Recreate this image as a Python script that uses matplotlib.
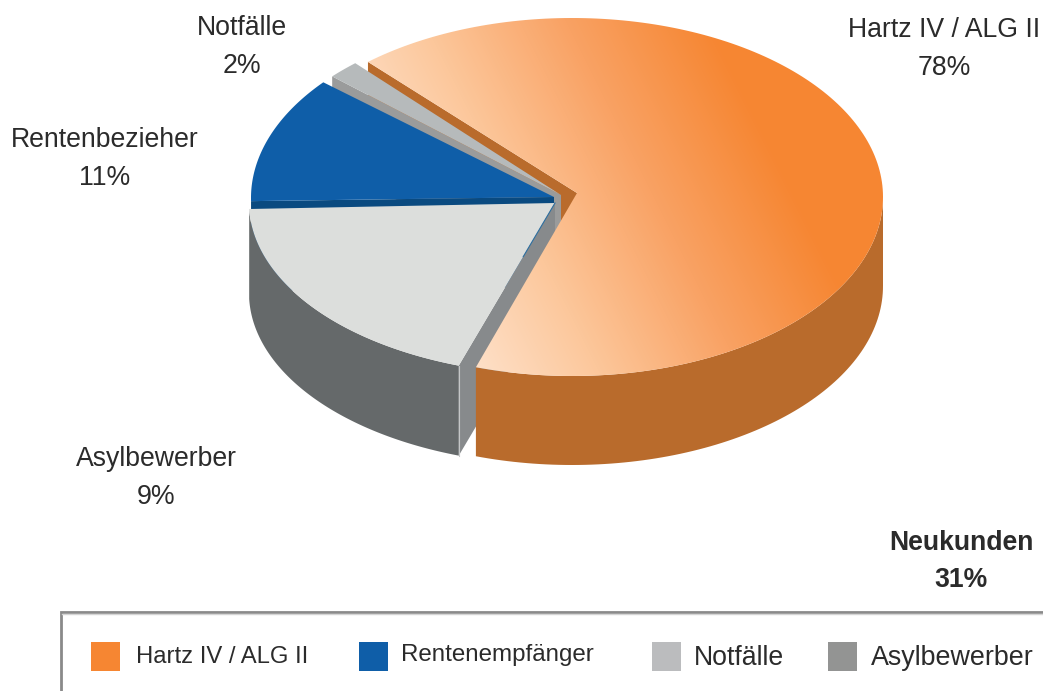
import numpy as np
import matplotlib
matplotlib.use("Agg")
import matplotlib.pyplot as plt
from matplotlib.colors import LinearSegmentedColormap
from matplotlib.patches import Polygon, Rectangle

plt.rcParams['font.family'] = ['Liberation Sans', 'DejaVu Sans']

# printed labels
label_names = ["Hartz IV / ALG II", "Rentenbezieher", "Notfälle", "Asylbewerber"]
label_pct = [78, 11, 2, 9]
total_name = "Neukunden"
total_pct = 31
legend_names = ["Hartz IV / ALG II", "Rentenempfänger", "Notfälle", "Asylbewerber"]

# angles as drawn in the picture (not proportional to the printed %), degrees
drawn_sweep = [239, 41, 6, 69]

# layout, in pixels of the figure
W, H = 1043, 691
depth = 90
rim_depth = 89
starts = [131, 181, 137.5, 251]  # clockwise from here
centers = [(572, 197), (560, 198), (560, 198), (560, 203)]
radii = [(311, 179), (309, 180), (309, 180), (311, 172)]
apexes = [(577, 193), (554, 197), (561, 195), (555, 203)]

top_cols = [None, "#0f5ea8", "#b6babb", "#dcdedc"]
cut_cols = ["#b96b2c", "#0a4a80", "#9a9b9b", "#878a8c"]
rim_cols = ["#b96b2c", None, None, "#65696a"]
legend_cols = ["#f68632", "#0f5ea8", "#bbbcbe", "#939493"]
text_col = "#2b2b2b"


def arc(i):
    t = np.radians(np.linspace(starts[i], starts[i] - drawn_sweep[i], 200))
    return np.column_stack([centers[i][0] + radii[i][0] * np.cos(t),
                            centers[i][1] - radii[i][1] * np.sin(t)])


def down(pts, d=depth):
    return pts + np.array([0, d])


def cut_wall(i, pts):
    # flat wall along one radius of a slice
    a = np.array([apexes[i]], dtype=float)
    p = np.array([pts], dtype=float)
    return np.vstack([p, a, down(a), down(p)])


fig = plt.figure(figsize=(W / 100, H / 100), dpi=100)
ax = fig.add_axes([0, 0, 1, 1])

arcs = [arc(i) for i in range(4)]
ORANGE, BLUE, NOT, ASYL = 0, 1, 2, 3

# walls first, the top faces cover what is hidden
ax.add_patch(Polygon(cut_wall(ORANGE, arcs[ORANGE][0]), fc=cut_cols[ORANGE], ec="none", zorder=1))
ax.add_patch(Polygon(cut_wall(NOT, arcs[NOT][0]), fc=cut_cols[NOT], ec="none", zorder=2))
ax.add_patch(Polygon(cut_wall(BLUE, arcs[BLUE][0]), fc=cut_cols[BLUE], ec="none", zorder=3))
ax.add_patch(Polygon(cut_wall(ASYL, arcs[ASYL][0]), fc=cut_cols[ASYL], ec="none", zorder=3.5))

# only the front of the rim can be seen
front = arcs[ORANGE][np.argmax(arcs[ORANGE][:, 0]):]
ax.add_patch(Polygon(np.vstack([front, down(front, rim_depth)[::-1]]), fc=rim_cols[ORANGE], ec="none", zorder=4))

# orange top, gradient runs at a slant
top = Polygon(np.vstack([[apexes[ORANGE]], arcs[ORANGE]]), fc="none", ec="none", transform=ax.transData)
ax.add_patch(top)
grad = LinearSegmentedColormap.from_list("g", [(0, "#fee0c8"), (0.3, "#fcc79b"), (0.65, "#f9a264"), (1, "#f68632")])
gx, gy = np.meshgrid(np.arange(250, 890), np.arange(0, 400))
im = ax.imshow(np.clip((gx - 0.5 * gy - 290) / 408, 0, 1), cmap=grad, vmin=0, vmax=1,
               extent=(250, 890, 400, 0), aspect="auto", zorder=5)
im.set_clip_path(top)

ax.add_patch(Polygon(np.vstack([arcs[ASYL], down(arcs[ASYL])[::-1]]), fc=rim_cols[ASYL], ec="none", zorder=6))
ax.add_patch(Polygon(np.vstack([[apexes[ASYL]], arcs[ASYL]]), fc=top_cols[ASYL], ec="none", zorder=7))
ax.add_patch(Polygon(np.vstack([[apexes[BLUE]], arcs[BLUE]]), fc=top_cols[BLUE], ec="none", zorder=8))
ax.add_patch(Polygon(np.vstack([[apexes[NOT]], arcs[NOT]]), fc=top_cols[NOT], ec="none", zorder=8))

# thin edges along the grey slice
e = arcs[ASYL][0]
a = np.array(apexes[ASYL])
ax.plot([a[0], a[0] + 0.33 * (e[0] - a[0])], [a[1], a[1] + 0.33 * (e[1] - a[1])], color="#2f6f9f", lw=0.8, zorder=7.5)
ax.plot([e[0], e[0]], [e[1], e[1] + depth], color="#c4c6c7", lw=0.8, zorder=7.5)

# labels
fs = 19.2
label_pos = [(944, 30), (105, 140), (242, 28), (156, 459)]
for name, pct, (x, y) in zip(label_names, label_pct, label_pos):
    ax.text(x, y, name, ha="center", va="center", fontsize=fs, color=text_col, zorder=10)
    ax.text(x, y + 38, f"{pct}%", ha="center", va="center", fontsize=fs, color=text_col, zorder=10)
ax.text(961, 543, total_name, ha="center", va="center", fontsize=fs, fontweight="bold", color=text_col)
ax.text(961, 580, f"{total_pct}%", ha="center", va="center", fontsize=fs, fontweight="bold", color=text_col)

# legend box, runs off the picture right and below
ax.plot([60.5, 60.5, W + 5], [H + 5, 612, 612], color="#8a8a8a", lw=2, solid_joinstyle="miter", zorder=9)
ax.plot([62, W + 5], [614, 614], color="#d5d5d5", lw=1, zorder=9)
swatch_x = [91, 359, 652, 828]
legend_x = [136, 401, 694, 871]
legend_y = [657, 655, 658, 658]
legend_fs = [17.2, 17.4, 19.2, 19.4]
for i in range(4):
    ax.add_patch(Rectangle((swatch_x[i], 642), 29, 29, fc=legend_cols[i], ec="none", zorder=9))
    ax.text(legend_x[i], legend_y[i], legend_names[i], ha="left", va="center",
            fontsize=legend_fs[i], color=text_col, zorder=10)

ax.set_xlim(0, W)
ax.set_ylim(H, 0)
ax.axis("off")
fig.savefig("out.png", dpi=100)
